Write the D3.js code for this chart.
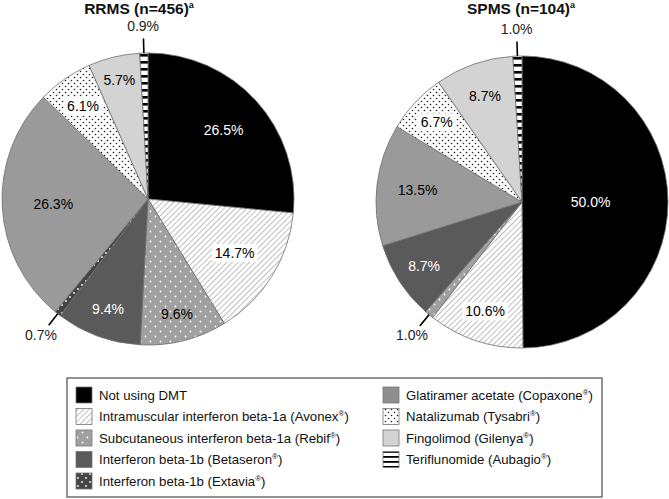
<!DOCTYPE html>
<html>
<head>
<meta charset="utf-8">
<script src="https://cdn.jsdelivr.net/npm/d3@7"></script>
<style>
  body { margin: 0; background: #fff; }
  svg { display: block; font-family: Arial, "Liberation Sans", sans-serif; }
</style>
</head>
<body>
<svg id="chart" width="669" height="499"></svg>
<script>
// categories in pie order (clockwise from 12 o'clock)
const categories = ["Not using DMT", "Intramuscular interferon beta-1a", "Subcutaneous interferon beta-1a",
  "Interferon beta-1b", "Interferon beta-1b", "Glatiramer acetate", "Natalizumab", "Fingolimod", "Teriflunomide"];
const brands = [null, "Avonex", "Rebif", "Betaseron", "Extavia", "Copaxone", "Tysabri", "Gilenya", "Aubagio"];
const rrmsValues = [26.5, 14.7, 9.6, 9.4, 0.7, 26.3, 6.1, 5.7, 0.9];
const spmsValues = [50.0, 10.6, 1.0, 8.7, 0.0, 13.5, 6.7, 8.7, 1.0];

// fill + label style per category
const FILL = ["#000", "url(#hatch)", "url(#subdots)", "#5a5a5a", "url(#extdots)", "#9a9a9a", "url(#natdots)", "#d3d3d3", "url(#stripes)"];
const LEGEND_FILL = ["#000", "url(#hatch)", "url(#subdots)", "#5a5a5a", "url(#extdots)", "#8e8e8e", "url(#natdots)", "#d3d3d3", "url(#stripesS)"];
const TEXT_COL = ["#fff", "#000", "#000", "#fff", "#fff", "#000", "#000", "#000", "#000"];
const BOXED = [false, true, false, false, false, false, true, false, false];

const svg = d3.select("#chart");
const defs = svg.append("defs");

function pat(id, w, h, bg, rot) {
  const p = defs.append("pattern").attr("id", id).attr("patternUnits", "userSpaceOnUse").attr("width", w).attr("height", h);
  if (rot) p.attr("patternTransform", `rotate(${rot})`);
  p.append("rect").attr("width", w).attr("height", h).attr("fill", bg);
  return p;
}
pat("hatch", 4, 4, "#fff", 45).append("line").attr("x1", 0).attr("y1", 0).attr("x2", 0).attr("y2", 4).attr("stroke", "#8a8a8a").attr("stroke-width", 1.1);
{
  const p = pat("natdots", 6, 6, "#fff");
  p.append("circle").attr("cx", 1.5).attr("cy", 1.5).attr("r", 0.8).attr("fill", "#222");
  p.append("circle").attr("cx", 4.5).attr("cy", 4.5).attr("r", 0.8).attr("fill", "#222");
}
{
  const p = pat("subdots", 10, 10, "#a0a0a0");
  p.append("circle").attr("cx", 2.5).attr("cy", 2.5).attr("r", 0.9).attr("fill", "#fff");
  p.append("circle").attr("cx", 7.5).attr("cy", 7.5).attr("r", 0.9).attr("fill", "#fff");
}
{
  const p = pat("extdots", 8, 8, "#454545");
  p.append("circle").attr("cx", 2).attr("cy", 2).attr("r", 0.9).attr("fill", "#fff");
  p.append("circle").attr("cx", 6).attr("cy", 6).attr("r", 0.9).attr("fill", "#fff");
}
pat("stripes", 7, 7, "#fff").append("rect").attr("y", 2).attr("width", 7).attr("height", 2.6).attr("fill", "#000");
pat("stripesS", 5, 5, "#fff").append("rect").attr("y", 1).attr("width", 5).attr("height", 1.8).attr("fill", "#000");

const R = 146;
const charts = [
  { title: "RRMS (n=456)", values: rrmsValues, cx: 148, cy: 199, tx: 139,
    labelR: [0.7, 0.7, 0.81, 0.8, 0, 0.65, 0.78, 0.84, 0] },
  { title: "SPMS (n=104)", values: spmsValues, cx: 522, cy: 202, tx: 521,
    labelR: [0.47, 0.79, 0, 0.8, 0, 0.72, 0.8, 0.77, 0] }
];

const pie = d3.pie().sort(null).value(d => d.v);
const arc = d3.arc().innerRadius(0).outerRadius(R);

charts.forEach(c => {
  const g = svg.append("g").attr("transform", `translate(${c.cx},${c.cy})`);
  const arcs = pie(c.values.map((v, i) => ({ v, i })));

  g.selectAll("path").data(arcs.filter(a => a.data.v > 0)).join("path")
    .attr("d", arc).attr("fill", a => FILL[a.data.i])
    .attr("stroke", "#707070").attr("stroke-width", 0.8);

  arcs.forEach(a => {
    const v = a.data.v, i = a.data.i;
    if (v <= 0) return;
    const mid = (a.startAngle + a.endAngle) / 2;
    const pt = r => [Math.sin(mid) * r, -Math.cos(mid) * r];
    const txt = v.toFixed(1) + "%";
    if (v < 2) {
      const [x1, y1] = pt(R), [x2, y2] = pt(R * 1.1), [lx, ly] = pt(R * 1.185);
      g.append("line").attr("x1", x1).attr("y1", y1).attr("x2", x2).attr("y2", y2)
        .attr("stroke", "#000").attr("stroke-width", 1.6);
      g.append("text").attr("x", lx).attr("y", ly).attr("dy", "0.36em").attr("text-anchor", "middle")
        .attr("font-size", 14).attr("fill", "#222").text(txt);
    } else {
      const [lx, ly] = pt(R * c.labelR[i]);
      const t = g.append("text").attr("x", lx).attr("y", ly).attr("dy", "0.36em").attr("text-anchor", "middle")
        .attr("font-size", 14).attr("fill", TEXT_COL[i]).text(txt);
      if (BOXED[i]) {
        const b = t.node().getBBox();
        g.insert("rect", () => t.node()).attr("x", b.x - 3).attr("y", b.y - 1).attr("width", b.width + 6).attr("height", b.height + 2).attr("fill", "#fff");
      }
    }
  });

  const tt = svg.append("text").attr("x", c.tx).attr("y", 14).attr("text-anchor", "middle")
    .attr("font-size", 15.5).attr("font-weight", "bold").attr("fill", "#111").text(c.title);
  tt.append("tspan").attr("font-size", 9).attr("dy", -6).text("a");
});

// legend
const lg = svg.append("g");
lg.append("rect").attr("x", 67).attr("y", 378).attr("width", 535).attr("height", 119)
  .attr("fill", "#fff").attr("stroke", "#666").attr("stroke-width", 1.4);
const rowY = d3.scalePoint().domain(d3.range(5)).range([395, 481]);
categories.forEach((name, i) => {
  const col = i < 5 ? 0 : 1, row = i < 5 ? i : i - 5;
  const x = col === 0 ? 76 : 383, y = rowY(row);
  lg.append("rect").attr("x", x).attr("y", y - 8).attr("width", 16).attr("height", 16)
    .attr("fill", LEGEND_FILL[i]).attr("stroke", "#777").attr("stroke-width", 0.8);
  const t = lg.append("text").attr("x", x + 23).attr("y", y).attr("dy", "0.36em")
    .attr("font-size", 13.2).attr("fill", "#111").text(name);
  if (brands[i]) {
    t.append("tspan").text(" (" + brands[i]);
    t.append("tspan").attr("font-size", 8).attr("dy", -5).text("®");
    t.append("tspan").attr("dy", 5).text(")");
  }
});
</script>
</body>
</html>
